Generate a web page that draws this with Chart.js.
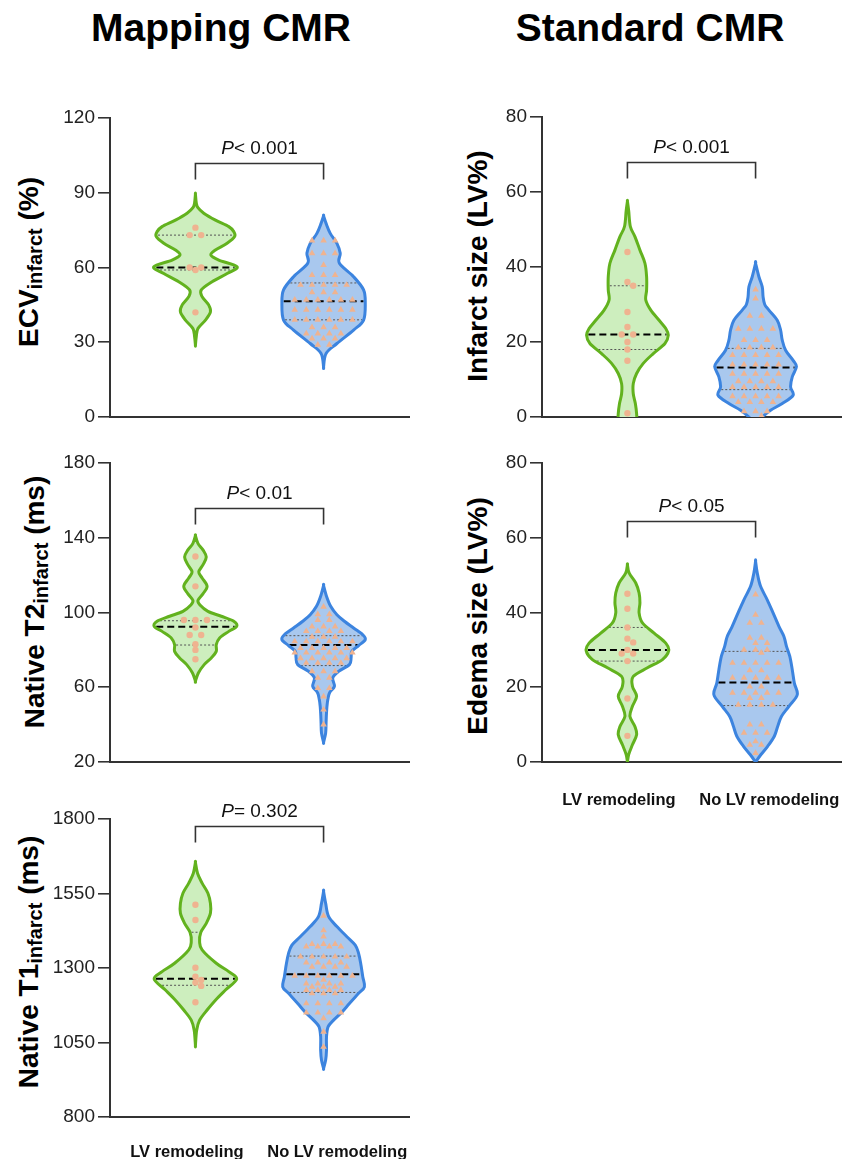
<!DOCTYPE html>
<html>
<head>
<meta charset="utf-8">
<script src="https://cdn.jsdelivr.net/npm/chart.js@4.4.1/dist/chart.umd.min.js"></script>
<style>
  body { margin: 0; background: #fff; width: 851px; height: 1159px; position: relative; overflow: hidden;
         font-family: "Liberation Sans", Arial, sans-serif; color: #000; }
  .head { position: absolute; top: 8px; font-weight: bold; font-size: 39px; line-height: 1; white-space: nowrap; transform: translateX(-50%); }
  .yt { position: absolute; font-weight: bold; font-size: 28px; line-height: 1; white-space: nowrap;
        transform: translate(-50%, -50%) rotate(-90deg); }
  .yt sub { font-size: 20px; vertical-align: -0.2em; }
  canvas { position: absolute; }
</style>
</head>
<body>
<div class="head" style="left:221px">Mapping CMR</div>
<div class="head" style="left:650px">Standard CMR</div>

<div class="yt" style="left:30px;top:262px">ECV<sub>infarct</sub> (%)</div>
<div class="yt" style="left:478px;top:266px">Infarct size (LV%)</div>
<div class="yt" style="left:36px;top:602px">Native T2<sub>infarct</sub> (ms)</div>
<div class="yt" style="left:478px;top:616px">Edema size (LV%)</div>
<div class="yt" style="left:30px;top:962px">Native T1<sub>infarct</sub> (ms)</div>

<canvas id="ecv" width="380" height="330" style="left:40px;top:100px"></canvas>
<canvas id="inf" width="381" height="330" style="left:470px;top:100px"></canvas>
<canvas id="t2" width="380" height="340" style="left:40px;top:440px"></canvas>
<canvas id="edema" width="381" height="380" style="left:470px;top:440px"></canvas>
<canvas id="t1" width="380" height="369" style="left:40px;top:790px"></canvas>

<script>
// ********* DATA *********
const groupNames = ["LV remodeling", "No LV remodeling"];

// ECV infarct (%)
const ecvLR = [76, 73, 73, 60, 59, 60, 42];
const ecvNo = [70.8, 70.8, 70.8, 65.7, 65.7, 65.7, 61, 57, 57, 57, 53, 53, 53, 53, 53, 50, 50, 50,
  47, 47, 47, 47, 47, 47, 43, 43, 43, 43, 43, 43, 39, 39, 39, 39, 39, 39, 36, 36, 36,
  33.5, 33.5, 33.5, 33.5, 31.5, 31.5, 31.5, 29, 29];
const ecvLRStats = [59, 60, 73]; // q1, median, q3
const ecvNoStats = [39, 46.5, 53.8];
const ecvLRShapeY = [89.5, 86, 84, 81.8, 79, 76.4, 74.4, 72.4, 69.7, 67, 65, 63, 60.3, 57.6, 54.3, 51, 48.3, 44.9, 42.2, 38.9, 35.5, 32.2, 28.8];
const ecvLRShapeW = [0, .02, .06, .2, .48, .8, .92, .94, .76, .48, .37, .56, 1, .76, .4, .14, .16, .32, .36, .24, .06, .02, 0];
const ecvNoShapeY = [80.7, 77.7, 73.7, 69.7, 65.7, 61.7, 56.3, 51, 45.6, 38.9, 34.9, 29.5, 25.5, 20.1];
const ecvNoShapeW = [0, .06, .16, .32, .4, .38, .72, .96, 1, .96, .72, .32, .06, 0];

// Infarct size (LV%)
const infLR = [44, 36, 35, 28, 24, 22, 22, 20, 18, 15, 1];
const infNo = [34, 31.6, 27, 27, 23.5, 23.5, 23.5, 23.5, 20.5, 20.5, 20.5, 18.5, 18.5, 18.5, 18.5,
  16.5, 16.5, 16.5, 16.5, 16.5, 14, 14, 14, 14, 14, 11.5, 11.5, 11.5, 11.5, 11.5, 9.5, 9.5, 9.5, 9.5,
  8, 8, 8, 8, 8, 5.5, 5.5, 5.5, 5.5, 5.5, 4, 4, 4, 4, 1.5, 1.5, 1.5, 0.3];
const infLRStats = [18, 22, 35];
const infNoStats = [7.3, 13.2, 18.3];
const infLRShapeY = [57.5, 55, 50.8, 48.1, 44.5, 41, 37.4, 33.9, 31.2, 28.5, 25.8, 23.6, 21.8, 19.6, 16.9, 14.3, 11.6, 8.9, 6.2, 3.6, 0.9, -1, -3];
const infLRShapeW = [0, .03, .07, .18, .3, .42, .46, .46, .44, .56, .76, .92, .98, .9, .62, .38, .22, .14, .14, .19, .22, .22, .16];
const infNoShapeY = [41, 37.4, 34.7, 32.1, 30, 28.5, 25.8, 23.2, 20.5, 17.8, 15.1, 13.4, 10.7, 8, 5.8, 3.6, 1.8, 0, -1.5];
const infNoShapeW = [0, .08, .16, .18, .22, .32, .52, .6, .64, .72, .9, .98, .88, .84, .9, .64, .36, .16, .04];

// Native T2 infarct (ms)
const t2LR = [130, 114, 96, 96, 96, 92, 88, 88, 83, 80, 75];
const t2No = [103, 99, 99, 96, 96, 92.5, 92.5, 92.5, 90, 90, 90, 90, 87, 87, 87,
  84.5, 84.5, 84.5, 84.5, 84.5, 84.5, 81, 81, 81, 81, 81, 78.5, 78.5, 78.5, 78.5, 78.5, 78.5,
  75.5, 75.5, 75.5, 75.5, 75.5, 73, 73, 73, 73, 68.5, 68.5, 68.5, 65, 65, 59.5, 59.5, 55, 48, 40];
const t2LRStats = [82.6, 92.4, 95.6];
const t2NoStats = [71.6, 82.6, 87.6];
const t2LRShapeY = [141.1, 137, 133.5, 129.7, 125.5, 121.7, 118.5, 114, 110, 106.5, 104, 100.6, 98, 95.3, 92.6, 89.9, 86.4, 82.8, 79.2, 75.7, 72.1, 67.6, 63.2];
const t2LRShapeW = [0, .06, .18, .26, .18, .08, .16, .28, .18, .06, .11, .3, .62, .92, .99, .8, .58, .5, .5, .38, .21, .07, 0];
const t2NoShapeY = [114.4, 108.7, 103.3, 98.8, 95.3, 91.7, 88.1, 85.5, 82.3, 79.2, 75.7, 72.1, 68.5, 65, 60.5, 56.9, 51.6, 46.2, 40.9, 35.5, 30.5];
const t2NoShapeW = [0, .07, .17, .32, .5, .72, .94, 1, .84, .68, .66, .62, .36, .22, .26, .14, .09, .07, .06, .05, 0];

// Edema size (LV%)
const edLR = [45, 41, 36, 33, 32, 30, 29, 29, 27, 17, 7];
const edNo = [44.8, 39.4, 37.2, 37.2, 33.2, 33.2, 31.8, 31.8, 30, 30, 30, 29.2, 26.5, 26.5, 26.5, 26.5, 26.5,
  24.5, 24.5, 22.5, 22.5, 22.5, 22.5, 22.5, 20.2, 20.2, 18.5, 18.5, 18.5, 18.5, 18.5, 17.1, 17.1,
  15.3, 15.3, 15.3, 15.3, 10, 10, 7.8, 7.8, 7.8, 5.5, 4.6, 4.6, 2.4];
const edLRStats = [27, 30, 36];
const edNoStats = [15.1, 21.3, 29.6];
const edLRShapeY = [52.8, 50.6, 47.9, 45.2, 42.6, 39.9, 37.2, 34.5, 31.8, 29.8, 27.4, 25.2, 22.9, 20.3, 17.6, 14.9, 12.2, 9.5, 7.3, 4.6, 2, 0];
const edLRShapeW = [0, .04, .2, .28, .3, .28, .36, .64, .92, .99, .84, .48, .14, .12, .22, .12, .06, .18, .22, .12, .03, 0];
const edNoShapeY = [53.7, 50.6, 47, 43.4, 39.9, 36.3, 33.6, 31, 28.3, 24.7, 21.1, 18, 14.9, 12.2, 9.5, 6.9, 4.2, 2, 0];
const edNoShapeW = [0, .04, .12, .28, .42, .56, .68, .74, .82, .88, .93, 1, .8, .62, .53, .45, .29, .13, 0];

// Native T1 infarct (ms)
const t1LR = [1512, 1461, 1301, 1271, 1260, 1251, 1240, 1185];
const t1No = [1475, 1426, 1405, 1380, 1380, 1380, 1372, 1372, 1372, 1372, 1338, 1338, 1338, 1338, 1338,
  1318, 1318, 1318, 1318, 1304, 1304, 1304, 1304, 1274, 1274, 1274, 1274, 1274, 1274, 1260,
  1248, 1248, 1248, 1248, 1237, 1237, 1237, 1226, 1226, 1226, 1226, 1215, 1215, 1215,
  1181, 1181, 1181, 1181, 1150, 1150, 1150, 1150, 1131, 1086, 1035];
const t1LRStats = [1242, 1264, 1420];
const t1NoStats = [1218, 1279, 1340];
const t1LRShapeY = [1654, 1618, 1585, 1551, 1517, 1484, 1450, 1420, 1389, 1361, 1316, 1288, 1263, 1226, 1192, 1159, 1125, 1091, 1041];
const t1LRShapeW = [0, .05, .16, .3, .36, .36, .26, .13, .1, .16, .5, .8, .99, .72, .48, .28, .1, .03, 0];
const t1NoShapeY = [1557, 1517, 1473, 1439, 1405, 1377, 1349, 1316, 1271, 1237, 1215, 1181, 1152, 1125, 1103, 1069, 1024, 991, 963];
const t1NoShapeW = [0, .05, .12, .32, .56, .76, .84, .89, .94, .98, .84, .62, .44, .24, .11, .07, .07, .05, 0];

// ********* STYLE *********
Chart.defaults.font.family = "'Liberation Sans', Arial, sans-serif";
const centers = [1, 2.5];       // group positions on x (0..3.5)
const labelAt = [0.9, 2.66];    // x label positions
const halfWidth = 0.488;        // violin half width (x units) at density 1
const dotStep = 0.135;          // spacing of dots within a row
const minGap = 5.6;             // px between dot centres
const groupStyle = [
  { fill: "#cdeebe", stroke: "#62b21e", point: "circle", radius: 3.2 },
  { fill: "#a9c8ee", stroke: "#3c84df", point: "triangle", radius: 3.8 },
];
const dotColor = "#efb390";

const panels = [
  { id: "ecv", box: [380, 330], axisW: 70, padTop: 18, padRight: 11, axisH: 13, y: [0, 120, 30],
    bracket: 102, pText: "< 0.001", labels: false,
    sets: [[ecvLR, ecvLRStats, ecvLRShapeY, ecvLRShapeW], [ecvNo, ecvNoStats, ecvNoShapeY, ecvNoShapeW]] },
  { id: "inf", box: [381, 330], axisW: 72, padTop: 17, padRight: 10, axisH: 13, y: [0, 80, 20],
    bracket: 68, pText: "< 0.001", labels: false,
    sets: [[infLR, infLRStats, infLRShapeY, infLRShapeW], [infNo, infNoStats, infNoShapeY, infNoShapeW]] },
  { id: "t2", box: [380, 340], axisW: 70, padTop: 23, padRight: 11, axisH: 18, y: [20, 180, 40],
    bracket: 156, pText: "< 0.01", labels: false,
    sets: [[t2LR, t2LRStats, t2LRShapeY, t2LRShapeW], [t2No, t2NoStats, t2NoShapeY, t2NoShapeW]] },
  { id: "edema", box: [381, 380], axisW: 72, padTop: 23, padRight: 10, axisH: 58, y: [0, 80, 20],
    bracket: 64.5, pText: "< 0.05", labels: true, labelPad: 29,
    sets: [[edLR, edLRStats, edLRShapeY, edLRShapeW], [edNo, edNoStats, edNoShapeY, edNoShapeW]] },
  { id: "t1", box: [380, 369], axisW: 70, padTop: 29, padRight: 11, axisH: 42, y: [800, 1800, 250],
    bracket: 1776, pText: "= 0.302", labels: true, labelPad: 26,
    sets: [[t1LR, t1LRStats, t1LRShapeY, t1LRShapeW], [t1No, t1NoStats, t1NoShapeY, t1NoShapeW]] },
];

// ********* HELPERS *********
// beeswarm: rows of equal values spread symmetrically, shifted when they touch earlier dots
const swarm = (values, center, p) => {
  const yPx = (p.box[1] - p.padTop - p.axisH) / (p.y[1] - p.y[0]);
  const xPx = (p.box[0] - p.axisW - p.padRight) / 3.5;
  const rows = [];
  values.forEach((v) => {
    const r = rows.find((r) => r.v === v);
    r ? r.n++ : rows.push({ v: v, n: 1 });
  });
  const placed = [];
  const out = [];
  rows.forEach((r) => {
    for (let k = 0; k < 6; k++) {
      const base = (k % 2 ? 1 : -1) * Math.ceil(k / 2) * dotStep / 2;
      const xs = [];
      for (let i = 0; i < r.n; i++) xs.push(base + (i - (r.n - 1) / 2) * dotStep);
      const ok = xs.every((dx) => placed.every((q) => Math.hypot((dx - q.dx) * xPx, (r.v - q.v) * yPx) >= minGap));
      if (ok || k === 5) {
        const use = ok ? xs : xs.map((dx) => dx - base);
        use.forEach((dx) => {
          placed.push({ dx: dx, v: r.v });
          out.push({ x: center + dx, y: r.v });
        });
        break;
      }
    }
  });
  return out;
};

// density width at a given value (linear between profile points)
const widthAt = (ys, ws, v) => {
  for (let i = 0; i < ys.length - 1; i++) {
    if (v <= ys[i] && v >= ys[i + 1]) {
      const t = (ys[i] - v) / (ys[i] - ys[i + 1]);
      return ws[i] + (ws[i + 1] - ws[i]) * t;
    }
  }
  return 0;
};

// closed catmull-rom path
const smoothPath = (ctx, pts) => {
  const n = pts.length;
  ctx.moveTo(pts[0][0], pts[0][1]);
  for (let i = 0; i < n; i++) {
    const p0 = pts[(i - 1 + n) % n], p1 = pts[i], p2 = pts[(i + 1) % n], p3 = pts[(i + 2) % n];
    ctx.bezierCurveTo(
      p1[0] + (p2[0] - p0[0]) / 6, p1[1] + (p2[1] - p0[1]) / 6,
      p2[0] - (p3[0] - p1[0]) / 6, p2[1] - (p3[1] - p1[1]) / 6,
      p2[0], p2[1]);
  }
  ctx.closePath();
};

const drawViolin = (ctx, xs, ys, set, center, style) => {
  const [vals, stats, shapeY, shapeW] = set;
  const cx = xs.getPixelForValue(center);
  const hw = xs.getPixelForValue(center + halfWidth) - cx;
  const right = shapeY.map((v, i) => [cx + shapeW[i] * hw, ys.getPixelForValue(v)]);
  const left = right.slice().reverse().map(([px, py]) => [2 * cx - px, py]);
  const pts = right.concat(left);

  ctx.beginPath();
  smoothPath(ctx, pts);
  ctx.fillStyle = style.fill;
  ctx.fill();

  // quartiles (dotted) and median (dashed)
  stats.forEach((s, i) => {
    const w = widthAt(shapeY, shapeW, s) * hw - 1.5;
    const py = ys.getPixelForValue(s);
    ctx.beginPath();
    if (i === 1) {
      ctx.setLineDash([7, 4]);
      ctx.lineWidth = 2;
      ctx.strokeStyle = "#000";
    } else {
      ctx.setLineDash([2, 2]);
      ctx.lineWidth = 1;
      ctx.strokeStyle = "#555";
    }
    ctx.moveTo(cx - w, py);
    ctx.lineTo(cx + w, py);
    ctx.stroke();
  });
  ctx.setLineDash([]);

  ctx.beginPath();
  smoothPath(ctx, pts);
  ctx.lineWidth = 3;
  ctx.lineJoin = "round";
  ctx.strokeStyle = style.stroke;
  ctx.stroke();
};

const violinPlugin = (p) => ({
  id: "violin_" + p.id,
  beforeDatasetsDraw(chart) {
    const { ctx, chartArea, scales } = chart;
    ctx.save();
    ctx.beginPath();
    ctx.rect(chartArea.left, chartArea.top, chartArea.width, chartArea.height);
    ctx.clip();
    p.sets.forEach((set, i) => drawViolin(ctx, scales.x, scales.y, set, centers[i], groupStyle[i]));
    ctx.restore();
  },
  afterDraw(chart) {
    const { ctx, scales } = chart;
    const x1 = scales.x.getPixelForValue(centers[0]);
    const x2 = scales.x.getPixelForValue(centers[1]);
    const yb = Math.round(scales.y.getPixelForValue(p.bracket)) + 0.5;
    ctx.save();
    ctx.strokeStyle = "#333";
    ctx.lineWidth = 1.6;
    ctx.beginPath();
    ctx.moveTo(x1, yb + 16);
    ctx.lineTo(x1, yb);
    ctx.lineTo(x2, yb);
    ctx.lineTo(x2, yb + 16);
    ctx.stroke();

    const fam = Chart.defaults.font.family;
    ctx.fillStyle = "#111";
    ctx.textBaseline = "alphabetic";
    ctx.font = "italic 19px " + fam;
    const wP = ctx.measureText("P").width;
    ctx.font = "19px " + fam;
    const wT = ctx.measureText(p.pText).width;
    const start = (x1 + x2) / 2 - (wP + wT) / 2;
    ctx.font = "italic 19px " + fam;
    ctx.fillText("P", start, yb - 10);
    ctx.font = "19px " + fam;
    ctx.fillText(p.pText, start + wP, yb - 10);
    ctx.restore();
  },
});

// ********* CHARTS *********
panels.forEach((p) => {
  const datasets = p.sets.map((set, i) => ({
    type: "scatter",
    data: swarm(set[0], centers[i], p),
    pointStyle: groupStyle[i].point,
    pointRadius: groupStyle[i].radius,
    pointBackgroundColor: dotColor,
    pointBorderWidth: 0,
    label: groupNames[i],
  }));

  new Chart(document.getElementById(p.id), {
    type: "scatter",
    data: { datasets: datasets },
    options: {
      responsive: false,
      animation: false,
      layout: { padding: { top: p.padTop, right: p.padRight, left: 0, bottom: 0 } },
      plugins: { legend: { display: false }, tooltip: { enabled: false } },
      scales: {
        x: {
          type: "linear",
          min: 0,
          max: 3.5,
          grid: { display: false, drawTicks: false },
          border: { display: true, color: "#333", width: 2 },
          afterFit: (s) => {
            s.height = p.axisH;
            s.paddingLeft = 0;
            s.paddingRight = 0;
          },
          afterBuildTicks: (s) => { s.ticks = labelAt.map((v) => ({ value: v })); },
          ticks: {
            display: p.labels,
            autoSkip: false,
            maxRotation: 0,
            padding: p.labelPad || 0,
            color: "#111",
            font: { size: 16.5, weight: "bold" },
            callback: (v) => (v === labelAt[0] ? groupNames[0] : groupNames[1]),
          },
        },
        y: {
          min: p.y[0],
          max: p.y[1],
          afterFit: (s) => {
            s.width = p.axisW;
            s.paddingTop = 0;
            s.paddingBottom = 0;
          },
          grid: { drawOnChartArea: false, drawTicks: true, tickLength: 12, color: "#333", lineWidth: 1.6 },
          border: { display: true, color: "#333", width: 2 },
          ticks: { stepSize: p.y[2], padding: 3, color: "#222", font: { size: 19 }, callback: (v) => String(v) },
        },
      },
    },
    plugins: [violinPlugin(p)],
  });
});
</script>
</body>
</html>
